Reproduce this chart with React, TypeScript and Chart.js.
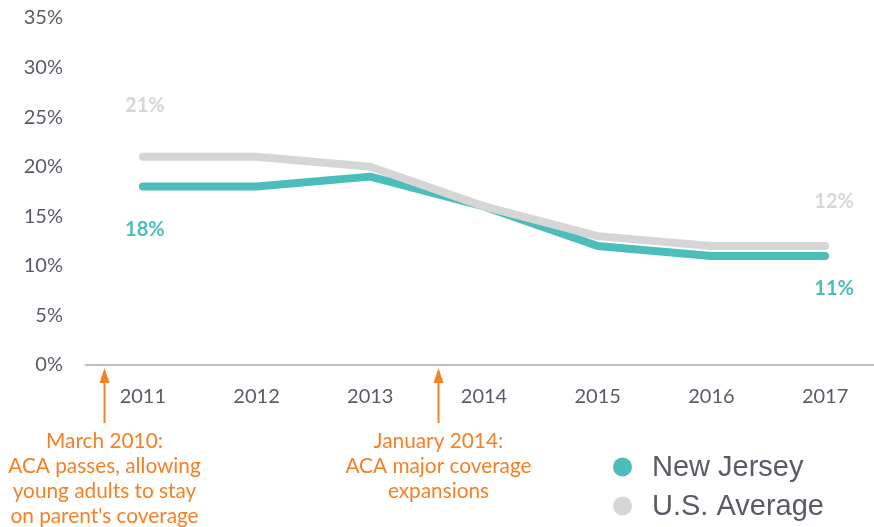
import React, { useEffect, useRef } from "react";
import { Chart, registerables } from "chart.js";

Chart.register(...registerables);

const categories = ["2011", "2012", "2013", "2014", "2015", "2016", "2017"];
const newJersey = [18, 18, 19, 16, 12, 11, 11];
const usAverage = [21, 21, 20, 16, 13, 12, 12];
const yTicks = [0, 5, 10, 15, 20, 25, 30, 35];
const seriesNames = ["New Jersey", "U.S. Average"];
const eventPositions = [2010.66, 2013.6];
const eventTexts = [
  ["March 2010:", "ACA passes, allowing", "young adults to stay", "on parent's coverage"],
  ["January 2014:", "ACA major coverage", "expansions"],
];

const TEAL = "#4BBDBA";
const GRAY = "#D6D6D6";
const ORANGE = "#F58025";
const TEXT = "#595C66";

export default function App() {
  const ref = useRef<HTMLCanvasElement>(null);
  useEffect(() => {
    const xs = categories.map(Number);
    const overlay = {
      id: "overlay",
      afterDraw(chart: any) {
        const ctx = chart.ctx;
        const x = chart.scales.x;
        const y = chart.scales.y;
        ctx.save();
        // data labels
        ctx.font = "bold 20px Lato";
        ctx.textAlign = "center";
        ctx.textBaseline = "middle";
        const first = 0;
        const last = xs.length - 1;
        ctx.fillStyle = GRAY;
        ctx.fillText(usAverage[first] + "%", x.getPixelForValue(xs[first]) + 2, y.getPixelForValue(usAverage[first]) - 51);
        ctx.fillText(usAverage[last] + "%", x.getPixelForValue(xs[last]) + 9, y.getPixelForValue(usAverage[last]) - 44);
        ctx.fillStyle = TEAL;
        ctx.fillText(newJersey[first] + "%", x.getPixelForValue(xs[first]) + 2, y.getPixelForValue(newJersey[first]) + 43);
        ctx.fillText(newJersey[last] + "%", x.getPixelForValue(xs[last]) + 9, y.getPixelForValue(newJersey[last]) + 33);

        // event arrows
        const base = y.getPixelForValue(0);
        eventPositions.forEach((ev, i) => {
          const px = Math.round(x.getPixelForValue(ev)) + 0.5;
          ctx.strokeStyle = ORANGE;
          ctx.fillStyle = ORANGE;
          ctx.lineWidth = 2;
          ctx.beginPath();
          ctx.moveTo(px, base + 58);
          ctx.lineTo(px, base + 14);
          ctx.stroke();
          ctx.beginPath();
          ctx.moveTo(px, base + 3);
          ctx.lineTo(px - 5, base + 18);
          ctx.lineTo(px + 5, base + 18);
          ctx.closePath();
          ctx.fill();
          ctx.font = "20.8px Lato";
          ctx.textAlign = "center";
          ctx.textBaseline = "middle";
          eventTexts[i].forEach((line, j) => {
            ctx.fillText(line, px, base + 76 + j * 25);
          });
        });

        // legend
        const colors = [TEAL, GRAY];
        seriesNames.forEach((name, i) => {
          const cy = 467 + i * 39;
          ctx.fillStyle = colors[i];
          ctx.beginPath();
          ctx.arc(622.5, cy, 9.5, 0, Math.PI * 2);
          ctx.fill();
          ctx.fillStyle = TEXT;
          ctx.font = "29px 'Liberation Sans'";
          ctx.textAlign = "left";
          ctx.textBaseline = "middle";
          ctx.fillText(name, 652, cy + 1);
        });
        ctx.restore();
      },
    };

    const chart = new Chart(ref.current as HTMLCanvasElement, {
      type: "line",
      data: {
        datasets: [
          {
            label: seriesNames[1],
            data: xs.map((v, i) => ({ x: v, y: usAverage[i] })),
            borderColor: GRAY,
            borderWidth: 8,
            borderCapStyle: "round",
            borderJoinStyle: "round",
            pointRadius: 0,
            tension: 0,
          },
          {
            label: seriesNames[0],
            data: xs.map((v, i) => ({ x: v, y: newJersey[i] })),
            borderColor: TEAL,
            borderWidth: 8,
            borderCapStyle: "round",
            borderJoinStyle: "round",
            pointRadius: 0,
            tension: 0,
          },
        ],
      },
      options: {
        animation: false,
        responsive: false,
        maintainAspectRatio: false,
        layout: { padding: { top: 18, right: 0, left: 0, bottom: 0 } },
        plugins: { legend: { display: false }, tooltip: { enabled: false } },
        scales: {
          x: {
            type: "linear",
            min: 2010.5,
            max: 2017.43,
            afterBuildTicks: (scale: any) => {
              scale.ticks = xs.map((v) => ({ value: v }));
            },
            afterFit: (scale: any) => {
              scale.height = 162;
            },
            grid: { display: false, drawTicks: false },
            border: { display: true, color: "#BFBFBF", width: 2 },
            ticks: {
              color: TEXT,
              font: { family: "Lato", size: 20 },
              padding: 20,
              maxRotation: 0,
              autoSkip: false,
              callback: (v: any) => String(v),
            },
          },
          y: {
            min: 0,
            max: 35,
            afterBuildTicks: (scale: any) => {
              scale.ticks = yTicks.map((v) => ({ value: v }));
            },
            afterFit: (scale: any) => {
              scale.width = 86;
              scale.paddingTop = 0;
              scale.paddingBottom = 0;
            },
            grid: { display: false, drawTicks: false },
            border: { display: false },
            ticks: {
              color: TEXT,
              font: { family: "Lato", size: 20 },
              padding: 23,
              callback: (v: any) => v + "%",
            },
          },
        },
      },
      plugins: [overlay],
    } as any);
    return () => chart.destroy();
  }, []);

  return (
    <div style={{ position: "fixed", left: 0, top: 0, width: 874, height: 527, background: "#fff" }}>
      <canvas ref={ref} width={874} height={527} style={{ display: "block" }} />
    </div>
  );
}
